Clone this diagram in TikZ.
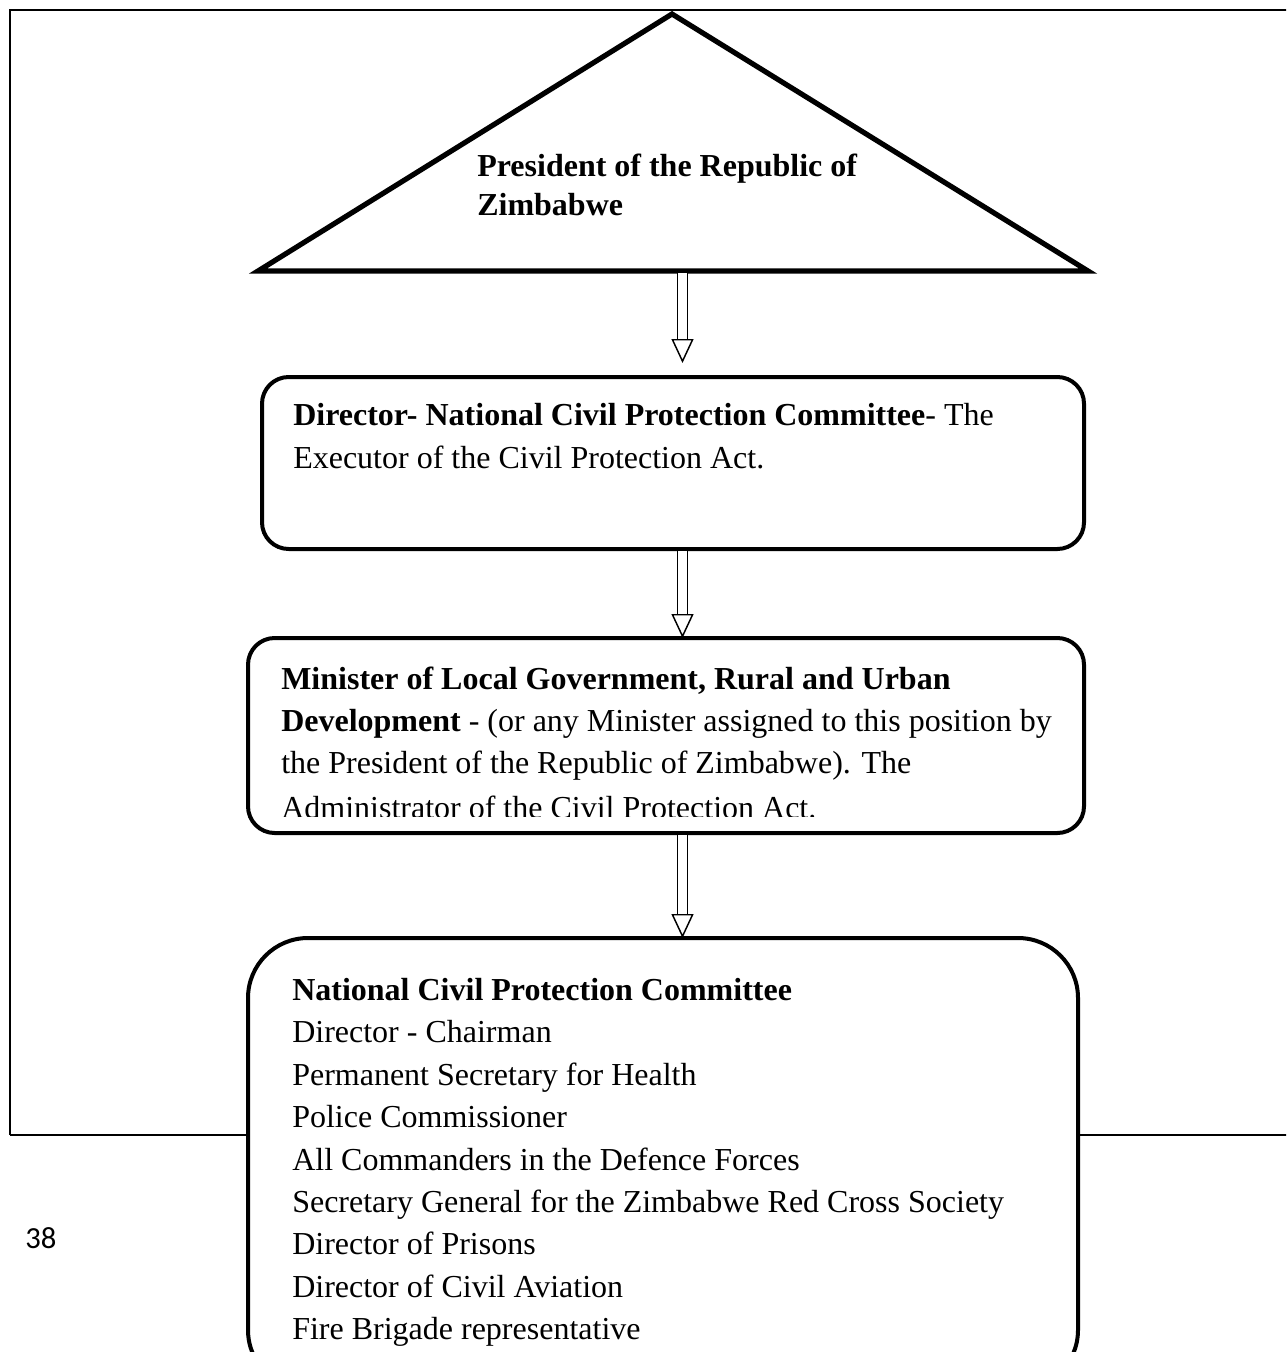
\documentclass[tikz,border=0pt]{standalone}
\usepackage{fontspec}
\setmainfont{Liberation Serif}
\newfontfamily\pagenumfont{Carlito}
\usetikzlibrary{arrows.meta,fit,calc}
\begin{document}
\begin{tikzpicture}[x=0.75pt,y=-0.75pt,
  txt/.style={inner sep=0pt, anchor=base west, font=\fontsize{24}{30}\selectfont},
  box/.style={draw, line width=3pt, fill=white, inner sep=0pt, outer sep=0pt, rounded corners=20pt},
  frame/.style={line width=1.5pt},
  conn/.style={double, double distance=6.75pt, line width=1.1pt, shorten <=1.8pt,
    -{Triangle[open, fill=white, width=16.5pt, length=18pt]}}
]
\useasboundingbox (0,0) rectangle (1286,1352);
\clip (0,0) rectangle (1286,1352);
% page frame
\draw[frame] (10,1135) -- (10,10) -- (1300,10);
\draw[frame] (10,1135) -- (1300,1135);
% triangle
\coordinate (apex) at (672,14);
\coordinate (tl) at (258,271);
\coordinate (tr) at (1088,271);
\draw[line width=3.9pt, line join=miter] (apex) -- (tl) -- (tr) -- cycle;
\node[txt, font=\fontsize{24}{30}\selectfont\bfseries] (p1) at (477,176) {President of the Republic of};
\node[txt, font=\fontsize{24}{30}\selectfont\bfseries] (p2) at (477,215) {Zimbabwe};
\coordinate (a1s) at (682.5,271);
% boxes
\node[box, fit={(262,377) (1084,549)}] (b1) {};
\node[box, fit={(248,638) (1084,833)}] (b2) {};
\node[box, rounded corners=45pt, fit={(248,938) (1078,1390)}] (b3) {};
% box 1 text
\node[txt] (t11) at (293,425) {\textbf{Director- National Civil Protection Committee}- The};
\node[txt] (t12) at (293,468) {Executor of the Civil Protection Act.};
% box 2 text
\begin{scope}
\clip (250,640) rectangle (1082,816);
\node[txt] (t21) at (281,689) {\textbf{Minister of Local Government, Rural and Urban}};
\node[txt] (t22) at (281,731) {\textbf{Development} - (or any Minister assigned to this position by};
\node[txt] (t23) at (281,773) {the President of the Republic of Zimbabwe). The};
\node[txt] (t24) at (281,818) {Administrator of the Civil Protection Act.};
\end{scope}
% box 3 text
\node[txt] (t31) at (292,1000) {\textbf{National Civil Protection Committee}};
\node[txt] (t32) at (292,1042) {Director - Chairman};
\node[txt] (t33) at (292,1085) {Permanent Secretary for Health};
\node[txt] (t34) at (292,1127) {Police Commissioner};
\node[txt] (t35) at (292,1170) {All Commanders in the Defence Forces};
\node[txt] (t36) at (292,1212) {Secretary General for the Zimbabwe Red Cross Society};
\node[txt] (t37) at (292,1254) {Director of Prisons};
\node[txt] (t38) at (292,1297) {Director of Civil Aviation};
\node[txt] (t39) at (292,1339) {Fire Brigade representative};
% page number
\node[inner sep=0pt, anchor=base west, font=\pagenumfont\fontsize{23}{27}\selectfont] (pg) at (25,1248) {38};
% connectors
\draw[conn, shorten >=10.5pt] (a1s) -- (a1s |- b1.north);
\draw[conn] (a1s |- b1.south) -- (a1s |- b2.north);
\draw[conn] (a1s |- b2.south) -- (a1s |- b3.north);
\end{tikzpicture}
\end{document}
